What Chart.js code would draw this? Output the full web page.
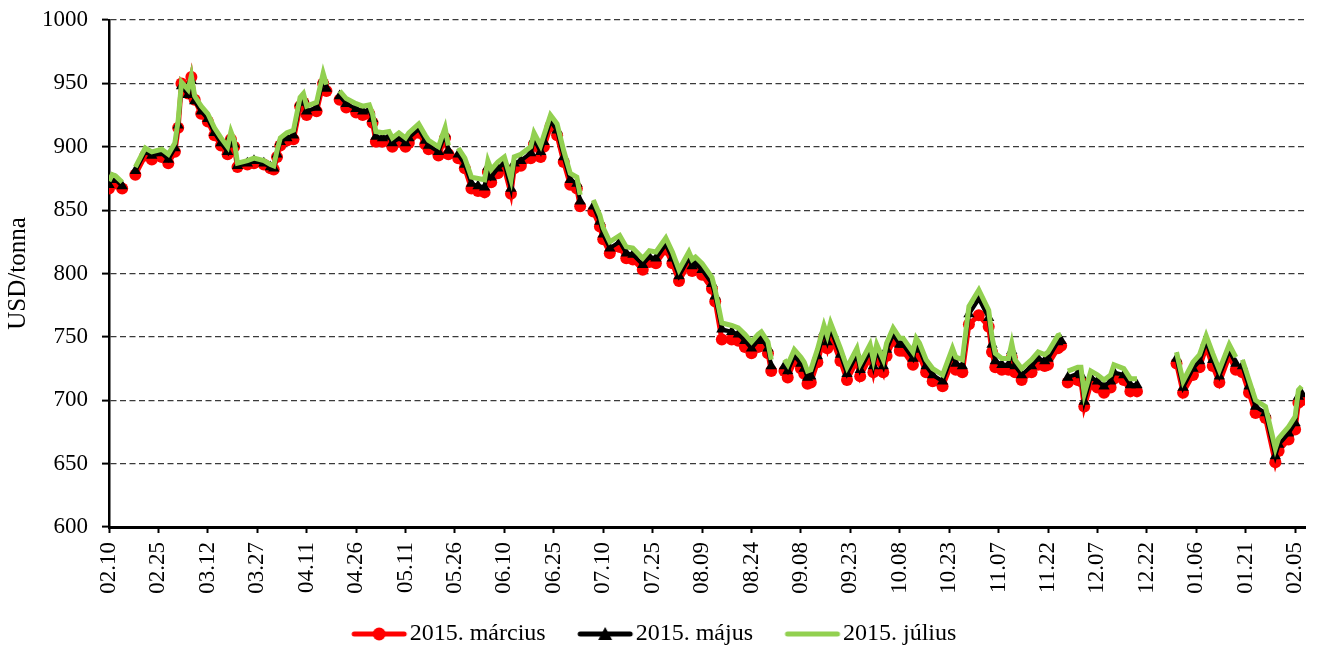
<!DOCTYPE html>
<html>
<head>
<meta charset="utf-8">
<script src="https://cdn.jsdelivr.net/npm/chart.js@4.4.0/dist/chart.umd.min.js"></script>
<style>
  body { margin: 0; background: #fff; }
  #chart { display: block; }
</style>
</head>
<body>
<canvas id="chart" width="1319" height="648"></canvas>
<script>
// first day of the axis: 2014.02.10, x values are days from it
const startDate = Date.UTC(2014, 1, 10);

const days = [
  0, 1, 2, 4, 7, 8, 11, 13, 16, 18,
  20, 21, 22, 24, 25, 26, 28, 30, 32, 34,
  36, 37, 38, 39, 42, 44, 47, 49, 50, 51,
  52, 54, 56, 58, 59, 60, 63, 65, 66, 67,
  70, 72, 75, 77, 79, 80, 81, 83, 85, 86,
  88, 90, 91, 94, 96, 97, 100, 102, 103, 105,
  106, 108, 110, 112, 114, 115, 116, 118, 120, 122,
  123, 125, 128, 129, 131, 132, 134, 136, 138, 140,
  142, 143, 144, 147, 149, 150, 152, 155, 157, 159,
  162, 164, 166, 169, 171, 173, 176, 177, 178, 180,
  183, 184, 186, 189, 191, 193, 195, 197, 198, 200,
  201, 203, 205, 206, 208, 210, 211, 212, 213, 215,
  217, 218, 219, 222, 224, 227, 228, 231, 232, 233,
  235, 236, 238, 240, 241, 244, 245, 246, 248, 250,
  253, 256, 257, 259, 261, 264, 267, 268, 269, 271,
  273, 274, 275, 277, 280, 282, 284, 285, 288, 289,
  290, 291, 294, 295, 296, 298, 300, 302, 304, 305,
  308, 310, 312, 313, 324, 326, 329, 331, 333, 335,
  337, 340, 342, 343, 344, 346, 348, 351, 354, 355,
  358, 360, 361, 362,
];

// 2015. március
const marcius = [
  867, 872, 871, 867, null, 878, 893, 890, 892, 887,
  896, 915, 950, 942, 955, 937, 926, 920, 909, 901,
  894, 906, 900, 884, 886, 887, 886, 883, 882, 892,
  901, 905, 906, 932, 935, 925, 928, 950, 944, null,
  937, 931, 927, 925, 926, 919, 904, 904, 905, 900,
  904, 900, 903, 911, 902, 898, 893, 907, 894, null,
  891, 883, 867, 865, 864, 880, 872, 879, 883, 863,
  883, 885, 891, 902, 892, 900, 916, 909, 888, 870,
  867, 853, null, 849, 837, 827, 816, 821, 812, 811,
  803, 809, 808, 819, 808, 794, 808, 802, 804, 799,
  788, 778, 748, 748, 747, 742, 737, 742, 744, 737,
  723, null, 723, 718, 731, 725, 721, 713, 714, 730,
  749, 741, 751, 731, 716, 731, 719, 734, 722, 734,
  722, 735, 747, 739, 739, 728, 739, 735, 722, 715,
  711, 731, 724, 722, 760, 767, 758, 738, 726, 724,
  724, 734, 722, 716, 722, 728, 727, 728, 741, 743,
  null, 714, 716, 715, 695, 713, 710, 706, 710, 717,
  716, 707, 707, null, 729, 706, 720, 726, 742, 727,
  714, 735, 724, null, 722, 706, 690, 686, 651, 660,
  669, 677, 698, 700,
];

// 2015. május
const majus = [
  870, 875, 874, 869, null, 881, 896, 893, 895, 890,
  899, 917, 948, 941, 952, 936, 928, 922, 911, 903,
  896, 908, 902, 885, 887, 889, 887, 884, 883, 894,
  904, 907, 909, 935, 938, 928, 931, 953, 946, null,
  940, 934, 930, 928, 929, 922, 908, 907, 908, 903,
  907, 903, 907, 914, 905, 901, 896, 910, 897, null,
  894, 886, 871, 869, 868, 884, 876, 883, 887, 867,
  887, 889, 895, 906, 896, 904, 920, 913, 892, 874,
  871, 857, null, 853, 841, 831, 820, 825, 816, 815,
  807, 813, 812, 823, 812, 798, 812, 806, 808, 803,
  792, 782, 756, 754, 752, 747, 741, 747, 749, 741,
  727, null, 727, 723, 735, 729, 725, 718, 719, 735,
  754, 746, 756, 736, 721, 736, 724, 739, 727, 739,
  727, 740, 752, 744, 744, 733, 744, 740, 727, 720,
  715, 736, 729, 727, 768, 780, 765, 744, 731, 728,
  728, 739, 727, 720, 727, 733, 731, 733, 746, 747,
  null, 718, 721, 720, 699, 718, 715, 711, 715, 722,
  720, 712, 712, null, 733, 710, 725, 731, 746, 732,
  719, 739, 729, null, 727, 711, 695, 690, 656, 665,
  674, 682, 703, 705,
];

// 2015. július
const julius = [
  873, 878, 877, 872, null, 884, 899, 896, 898, 894,
  903, 921, 951, 945, 956, 940, 932, 926, 915, 907,
  900, 912, 905, 887, 889, 891, 889, 886, 885, 897,
  907, 911, 913, 939, 942, 932, 935, 958, 949, null,
  944, 938, 934, 932, 933, 926, 912, 911, 912, 907,
  911, 907, 911, 918, 909, 905, 900, 915, 901, null,
  899, 891, 876, 875, 874, 889, 882, 888, 892, 874,
  892, 894, 900, 911, 901, 909, 925, 918, 897, 879,
  876, 862, null, 858, 846, 836, 825, 830, 821, 820,
  812, 818, 817, 828, 817, 803, 817, 811, 813, 808,
  797, 787, 761, 759, 757, 752, 746, 752, 754, 746,
  732, null, 732, 728, 740, 734, 730, 723, 724, 740,
  759, 751, 761, 741, 726, 741, 729, 744, 732, 744,
  732, 745, 757, 749, 749, 738, 749, 745, 732, 725,
  720, 741, 734, 732, 774, 787, 771, 750, 737, 733,
  733, 745, 732, 725, 732, 738, 736, 738, 751, 752,
  null, 723, 726, 726, 705, 723, 720, 716, 720, 728,
  725, 717, 717, null, 738, 715, 730, 736, 751, 737,
  724, 744, 734, null, 732, 716, 700, 695, 662, 670,
  679, 687, 708, 711,
];

const seriesNames = ["2015. március", "2015. május", "2015. július"];
const yTitle = "USD/tonna";

const serif = "'Liberation Serif', 'Times New Roman', serif";
const tickFont = { family: serif, size: 23 };
const legendFont = { family: serif, size: 24 };
const titleFont = { family: serif, size: 25 };

function dayLabel(value) {
  const d = new Date(startDate + value * 86400000);
  const mm = String(d.getUTCMonth() + 1).padStart(2, "0");
  const dd = String(d.getUTCDate()).padStart(2, "0");
  return mm + "." + dd;
}

function toPoints(values) {
  return days.map((d, i) => ({ x: d, y: values[i] }));
}

// small line + marker pictures for the legend (drawn centred on the legend box)
function makeIcon(color, marker) {
  const c = document.createElement("canvas");
  c.width = 70;
  c.height = 18;
  const g = c.getContext("2d");
  g.strokeStyle = color;
  g.fillStyle = color;
  g.lineWidth = 5;
  g.lineCap = "round";
  g.beginPath();
  g.moveTo(16, 9);
  g.lineTo(66, 9);
  g.stroke();
  const cx = 41;
  if (marker === "circle") {
    g.beginPath();
    g.arc(cx, 9, 6.5, 0, Math.PI * 2);
    g.fill();
  } else if (marker === "triangle") {
    g.beginPath();
    g.moveTo(cx, 2);
    g.lineTo(cx + 7, 15);
    g.lineTo(cx - 7, 15);
    g.closePath();
    g.fill();
  }
  return c;
}

const legendIcons = [
  makeIcon("#FF0000", "circle"),
  makeIcon("#000000", "triangle"),
  makeIcon("#92D050", null),
];

const config = {
  type: "line",
  data: {
    datasets: [
      {
        label: seriesNames[0],
        data: toPoints(marcius),
        borderColor: "#FF0000",
        borderWidth: 5,
        pointStyle: "circle",
        pointRadius: 6,
        pointBackgroundColor: "#FF0000",
        pointBorderWidth: 0,
        order: 3,
      },
      {
        label: seriesNames[1],
        data: toPoints(majus),
        borderColor: "#000000",
        borderWidth: 4,
        pointStyle: "triangle",
        pointRadius: 6.5,
        pointBackgroundColor: "#000000",
        pointBorderWidth: 0,
        order: 2,
      },
      {
        label: seriesNames[2],
        data: toPoints(julius),
        borderColor: "#92D050",
        borderWidth: 5,
        pointRadius: 0,
        order: 1,
      },
    ],
  },
  options: {
    responsive: false,
    animation: false,
    events: [],
    spanGaps: false,
    layout: { padding: { top: 20, right: 14, bottom: -8, left: 0 } },
    plugins: {
      tooltip: { enabled: false },
      legend: {
        position: "bottom",
        labels: {
          usePointStyle: true,
          pointStyleWidth: 49,
          padding: 29,
          color: "#000",
          font: legendFont,
          generateLabels: (chart) =>
            chart.data.datasets.map((ds, i) => ({
              text: ds.label,
              pointStyle: legendIcons[i],
              datasetIndex: i,
              hidden: false,
              lineWidth: 0,
              fillStyle: "rgba(0,0,0,0)",
              strokeStyle: "rgba(0,0,0,0)",
              fontColor: "#000",
            })),
        },
      },
    },
    scales: {
      x: {
        type: "linear",
        min: 0,
        max: 363,
        ticks: {
          stepSize: 15,
          includeBounds: false,
          autoSkip: false,
          maxRotation: 90,
          minRotation: 90,
          padding: 9,
          color: "#000",
          font: tickFont,
          callback: dayLabel,
        },
        grid: { drawOnChartArea: false, drawTicks: true, tickLength: 6, tickWidth: 2, tickColor: "#000" },
        border: { color: "#000", width: 3 },
        afterFit: (scale) => {
          scale.height = 66;
          scale.paddingLeft = 0;
          scale.paddingRight = 0;
        },
      },
      y: {
        min: 600,
        max: 1000,
        ticks: { stepSize: 50, padding: 14, color: "#000", font: tickFont, callback: (v) => String(v) },
        grid: { color: "#3a3a3a", lineWidth: 1.2, tickLength: 7, tickWidth: 2, tickColor: "#000", tickBorderDash: [] },
        border: { color: "#000", width: 2.5, dash: [6, 3.5] },
        title: { display: true, text: yTitle, color: "#000", font: titleFont, padding: { top: 3, bottom: 0 } },
        afterFit: (scale) => {
          scale.width = 109;
          scale.paddingTop = 0;
          scale.paddingBottom = 0;
        },
      },
    },
  },
};

new Chart(document.getElementById("chart"), config);
</script>
</body>
</html>
